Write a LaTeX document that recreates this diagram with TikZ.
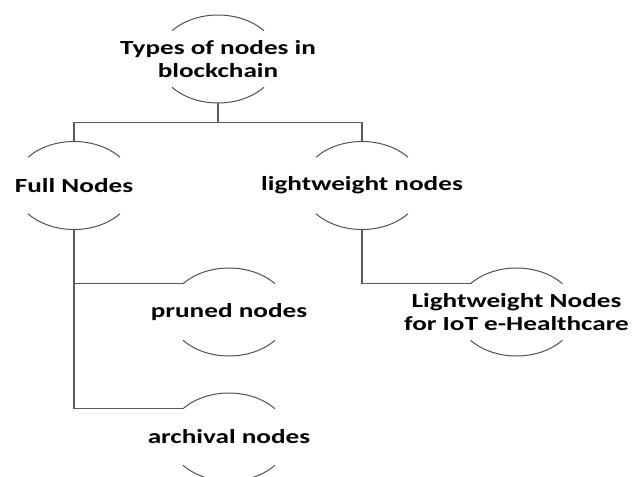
\documentclass[tikz,border=0pt]{standalone}
\usepackage{fontspec}
\setmainfont{Carlito}
\usetikzlibrary{shapes.geometric}

\definecolor{arcgray}{HTML}{505050}
\definecolor{linegray}{HTML}{5A5A5A}

\tikzset{
  bub/.style={ellipse, minimum width=120pt, minimum height=88pt, inner sep=0pt, draw=none},
  lbl/.style={align=center, inner sep=0pt, xscale=1.36,
              font=\bfseries\fontsize{20}{23.5}\selectfont},
  rim/.style={draw=arcgray, line width=1pt},
  conn/.style={draw=linegray, line width=1.3pt},
}

\begin{document}
\begin{tikzpicture}[x=1pt, y=1pt]
  \useasboundingbox (0,0) rectangle (638,477);
  \clip (0,0) rectangle (638,477);

  % bubble outlines (anchors only)
  \node[bub] (e1) at (218,418)   {};
  \node[bub] (e2) at (74,291.5)  {};
  \node[bub] (e3) at (362,291.5) {};
  \node[bub] (e5) at (229,165)   {};
  \node[bub] (e6) at (229,40)    {};
  \node[bub] (e7) at (516.5,165) {};

  % upper and lower rims of each bubble
  \foreach \n in {e1,e2,e3,e5,e6,e7}{
    \draw[rim] ([shift={(140:60pt and 44pt)}]\n.center)
      arc[start angle=140, end angle=40, x radius=60pt, y radius=44pt];
    \draw[rim] ([shift={(220:60pt and 44pt)}]\n.center)
      arc[start angle=220, end angle=320, x radius=60pt, y radius=44pt];
  }

  % left ends of the upper rims, where side branches attach
  \coordinate (e5w) at ([shift={(140:60pt and 44pt)}]e5.center);
  \coordinate (e6w) at ([shift={(140:60pt and 44pt)}]e6.center);
  \coordinate (e7w) at ([shift={(140:60pt and 44pt)}]e7.center);

  % labels
  \node[lbl] (t1) at (e1) {Types of nodes in\\blockchain};
  \node[lbl] (t2) at (e2) {Full Nodes};
  \node[lbl] (t3) at (e3) {lightweight nodes};
  \node[lbl] (t5) at (e5) {pruned nodes};
  \node[lbl] (t6) at (e6) {archival nodes};
  \node[lbl] (t7) at (e7) {Lightweight Nodes\\for IoT e-Healthcare};

  % connectors
  \draw[conn] (e1.south) -- ++(0,-19pt) coordinate (j1);
  \draw[conn] (e2.north) |- (j1) -| (e3.north);
  \draw[conn] (e2.south) |- (e5w);
  \draw[conn] (e2.south) |- (e6w);
  \draw[conn] (e3.south) |- (e7w);
\end{tikzpicture}
\end{document}
